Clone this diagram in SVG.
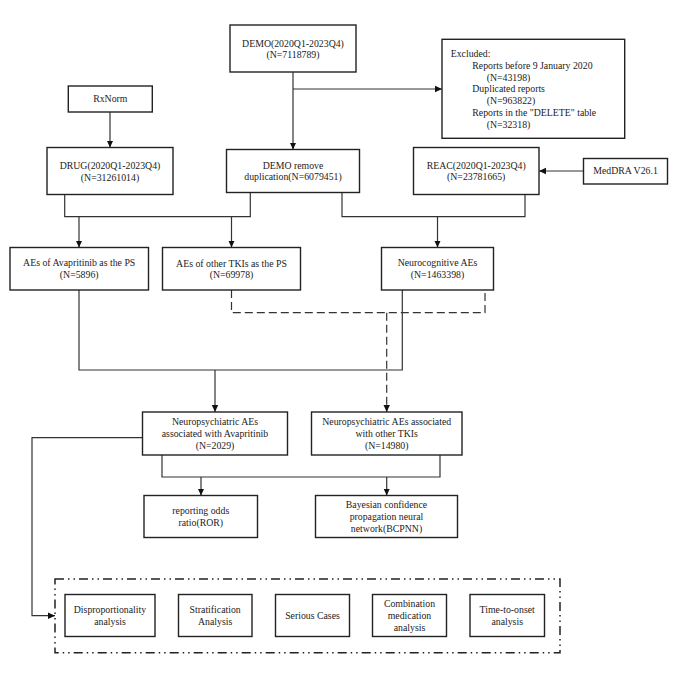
<svg xmlns="http://www.w3.org/2000/svg" width="685" height="682" viewBox="0 0 685 682">
<defs>
<marker id="arr" markerUnits="userSpaceOnUse" markerWidth="8" markerHeight="8" refX="7" refY="4" orient="auto">
<path d="M0,0.8 L7,4 L0,7.2 Z" fill="#111"/>
</marker>
</defs>
<style>
.box{fill:#fff;stroke:#222;stroke-width:1.4}
.t{font-family:"Liberation Serif","Times New Roman",serif;font-size:9.8px;fill:#222;text-anchor:middle}
.tl{font-family:"Liberation Serif","Times New Roman",serif;font-size:9.8px;fill:#222}
.c{fill:none;stroke:#333;stroke-width:1.2}
.d{fill:none;stroke:#333;stroke-width:1.2;stroke-dasharray:8 4}
.cont{fill:none;stroke:#222;stroke-width:1.5;stroke-dasharray:9 4 1.5 4 1.5 4}
</style>
<rect width="685" height="682" fill="#fff"/>

<g id="connectors">
<path class="c" d="M293,72.3 V149.5" marker-end="url(#arr)"/>
<path class="c" d="M293,89 H442" marker-end="url(#arr)"/>
<path class="c" d="M110,112 V147.5" marker-end="url(#arr)"/>
<path class="c" d="M583.5,171 H539" marker-end="url(#arr)"/>
<path class="c" d="M64.7,194.5 V216.7 H250.3 V192.5"/>
<path class="c" d="M79,216.7 V247.5" marker-end="url(#arr)"/>
<path class="c" d="M231.5,216.7 V247.5" marker-end="url(#arr)"/>
<path class="c" d="M342,192.5 V216.7 H525 V194.5"/>
<path class="c" d="M437.5,216.7 V247.5" marker-end="url(#arr)"/>
<path class="d" d="M231.5,290 V312.7 H485 V290"/>
<path class="d" d="M386.7,312.7 V412" marker-end="url(#arr)"/>
<path class="c" d="M79,290 V370 H402.3 V290"/>
<path class="c" d="M215,370 V412" marker-end="url(#arr)"/>
<path class="c" d="M142.5,437.7 H32 V615.7 H55" marker-end="url(#arr)"/>
<path class="c" d="M162,455 V477 H440 V455"/>
<path class="c" d="M201,477 V495.5" marker-end="url(#arr)"/>
<path class="c" d="M386.7,477 V495.5" marker-end="url(#arr)"/>
</g>

<g id="demo">
<rect class="box" x="230" y="25" width="126" height="47"/>
<text class="t" x="293" y="46.6">DEMO(2020Q1-2023Q4)</text>
<text class="t" x="293" y="57.8">(N=7118789)</text>
</g>

<g id="excluded">
<rect class="box" x="442" y="39.3" width="182.7" height="99"/>
<text class="tl" x="450.7" y="56.6">Excluded:</text>
<text class="tl" x="472.3" y="69">Reports before 9 January 2020</text>
<text class="tl" x="486.7" y="80.6">(N=43198)</text>
<text class="tl" x="472.3" y="92.3">Duplicated reports</text>
<text class="tl" x="486.7" y="104">(N=963822)</text>
<text class="tl" x="472.3" y="115.6">Reports in the "DELETE" table</text>
<text class="tl" x="486.7" y="127.6">(N=32318)</text>
</g>

<g id="rxnorm">
<rect class="box" x="68.3" y="86" width="84" height="26"/>
<text class="t" x="110.3" y="102.3">RxNorm</text>
</g>

<g id="drug">
<rect class="box" x="47" y="147.5" width="126" height="47"/>
<text class="t" x="110" y="168.6">DRUG(2020Q1-2023Q4)</text>
<text class="t" x="110" y="180.6">(N=31261014)</text>
</g>

<g id="demo-remove">
<rect class="box" x="226.5" y="149.5" width="133" height="43"/>
<text class="t" x="293" y="168.6">DEMO remove</text>
<text class="t" x="293" y="180.3">duplication(N=6079451)</text>
</g>

<g id="reac">
<rect class="box" x="413.5" y="147.5" width="125.5" height="47"/>
<text class="t" x="476.2" y="169">REAC(2020Q1-2023Q4)</text>
<text class="t" x="476.2" y="180.2">(N=23781665)</text>
</g>

<g id="meddra">
<rect class="box" x="583.5" y="158.5" width="84" height="25.5"/>
<text class="t" x="625.5" y="174.3">MedDRA V26.1</text>
</g>

<g id="aes-avapritinib">
<rect class="box" x="10" y="247.5" width="138.5" height="42.5"/>
<text class="t" x="79.2" y="266.3">AEs of Avapritinib as the PS</text>
<text class="t" x="79.2" y="278.3">(N=5896)</text>
</g>

<g id="aes-other">
<rect class="box" x="162.5" y="247.5" width="138" height="42.5"/>
<text class="t" x="231.5" y="266.5">AEs of other TKIs as the PS</text>
<text class="t" x="231.5" y="278">(N=69978)</text>
</g>

<g id="neurocognitive">
<rect class="box" x="381.5" y="247.5" width="112" height="42.5"/>
<text class="t" x="437.5" y="266">Neurocognitive AEs</text>
<text class="t" x="437.5" y="278">(N=1463398)</text>
</g>

<g id="np-avapritinib">
<rect class="box" x="142.5" y="412" width="145" height="43"/>
<text class="t" x="215" y="425.3">Neuropsychiatric AEs</text>
<text class="t" x="215" y="437">associated with Avapritinib</text>
<text class="t" x="215" y="448.6">(N=2029)</text>
</g>

<g id="np-other">
<rect class="box" x="311.5" y="412" width="150.5" height="43"/>
<text class="t" x="386.7" y="425.3">Neuropsychiatric AEs associated</text>
<text class="t" x="386.7" y="437">with other TKIs</text>
<text class="t" x="386.7" y="448.6">(N=14980)</text>
</g>

<g id="ror">
<rect class="box" x="144" y="495.5" width="113.5" height="42"/>
<text class="t" x="200.8" y="514.3">reporting odds</text>
<text class="t" x="200.8" y="526">ratio(ROR)</text>
</g>

<g id="bcpnn">
<rect class="box" x="315.5" y="495.5" width="142" height="42"/>
<text class="t" x="386.5" y="508">Bayesian confidence</text>
<text class="t" x="386.5" y="520.3">propagation neural</text>
<text class="t" x="386.5" y="532.3">network(BCPNN)</text>
</g>

<g id="analyses">
<rect class="cont" x="55" y="579" width="505" height="73.7"/>
<g id="disproportionality">
<rect class="box" x="65" y="594.5" width="90" height="42"/>
<text class="t" x="110" y="613.3">Disproportionality</text>
<text class="t" x="110" y="625">analysis</text>
</g>
<g id="stratification">
<rect class="box" x="178.5" y="594.5" width="73.5" height="42"/>
<text class="t" x="215.2" y="613.3">Stratification</text>
<text class="t" x="215.2" y="625">Analysis</text>
</g>
<g id="serious">
<rect class="box" x="275.5" y="594.5" width="74" height="42"/>
<text class="t" x="312.5" y="619">Serious Cases</text>
</g>
<g id="combination">
<rect class="box" x="372.5" y="594.5" width="74" height="42"/>
<text class="t" x="409.5" y="607.3">Combination</text>
<text class="t" x="409.5" y="619">medication</text>
<text class="t" x="409.5" y="631">analysis</text>
</g>
<g id="tto">
<rect class="box" x="470" y="594.5" width="74.5" height="42"/>
<text class="t" x="507.2" y="613.3">Time-to-onset</text>
<text class="t" x="507.2" y="625">analysis</text>
</g>
</g>
</svg>
